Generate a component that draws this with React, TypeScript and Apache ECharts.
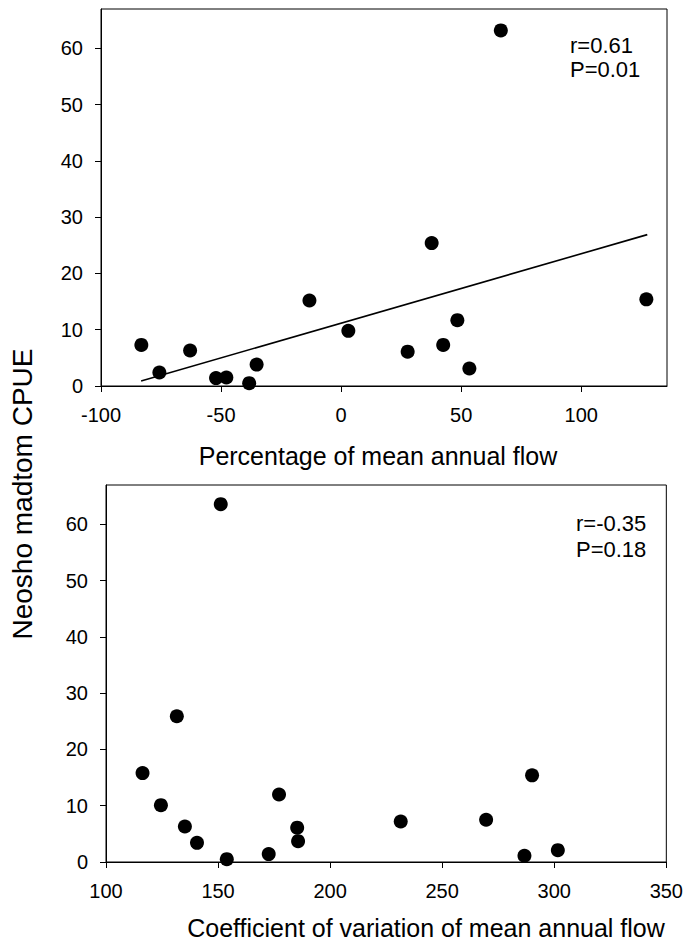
import React, { useEffect, useRef } from "react";
import * as echarts from "echarts";

// Top panel: percentage of mean annual flow vs CPUE
const flowPctX = [-83.2, -75.7, -62.9, -52.1, -47.8, -38.3, -35.2, -13.2, 3.0, 27.7, 42.5, 48.4, 53.4, 37.7, 66.5, 127.1];
const flowPctY = [7.3, 2.4, 6.3, 1.4, 1.5, 0.5, 3.8, 15.2, 9.8, 6.1, 7.3, 11.7, 3.1, 25.4, 63.2, 15.4];
// Regression line endpoints (top panel)
const fitX = [-83.3, 127.5];
const fitY = [0.9, 26.9];

// Bottom panel: coefficient of variation vs CPUE
const cvX = [151.2, 131.6, 116.3, 124.5, 135.2, 140.6, 153.9, 172.6, 177.2, 185.3, 185.7, 231.5, 269.6, 290.1, 286.7, 301.6];
const cvY = [63.6, 25.9, 15.8, 10.1, 6.3, 3.4, 0.5, 1.4, 12.0, 6.1, 3.7, 7.2, 7.5, 15.4, 1.1, 2.1];

const topStats = ["r=0.61", "P=0.01"];
const bottomStats = ["r=-0.35", "P=0.18"];
const titles = {
  y: "Neosho madtom CPUE",
  xTop: "Percentage of mean annual flow",
  xBottom: "Coefficient of variation of mean annual flow",
};

const FONT = "'Liberation Sans', Arial, sans-serif";

export default function App() {
  const ref = useRef<HTMLDivElement>(null);
  useEffect(() => {
    if (!ref.current) return;
    const chart = echarts.init(ref.current, null, { renderer: "svg" });
    const axisCommon = {
      type: "value" as const,
      axisLine: { show: true, onZero: false, lineStyle: { color: "#000", width: 1 } },
      axisTick: { show: true, inside: false, length: 6, lineStyle: { color: "#000" } },
      splitLine: { show: false },
    };
    const labelStyle = { color: "#000", fontSize: 20, fontFamily: FONT };
    const titleStyle = { fontSize: 25, fontFamily: FONT, fill: "#000", align: "center", verticalAlign: "middle" };
    chart.setOption({
      animation: false,
      backgroundColor: "#fff",
      textStyle: { fontFamily: FONT },
      grid: [
        { left: 101, right: 19, top: 9, height: 377, show: true, borderColor: "#000", borderWidth: 1, backgroundColor: "transparent" },
        { left: 106, right: 19, top: 485, height: 377, show: true, borderColor: "#000", borderWidth: 1, backgroundColor: "transparent" },
      ],
      xAxis: [
        {
          ...axisCommon,
          gridIndex: 0,
          min: -100,
          max: 135.7,
          interval: 50,
          axisLabel: { ...labelStyle, margin: 19, showMaxLabel: false },
        },
        {
          ...axisCommon,
          gridIndex: 1,
          min: 100,
          max: 350,
          interval: 50,
          axisLabel: { ...labelStyle, margin: 19 },
        },
      ],
      yAxis: [
        {
          ...axisCommon,
          gridIndex: 0,
          min: 0,
          max: 67,
          interval: 10,
          axisLabel: { ...labelStyle, margin: 18, showMaxLabel: false },
        },
        {
          ...axisCommon,
          gridIndex: 1,
          min: 0,
          max: 67,
          interval: 10,
          axisLabel: { ...labelStyle, margin: 18, showMaxLabel: false },
        },
      ],
      graphic: [
        {
          type: "text",
          x: 22,
          y: 494,
          rotation: Math.PI / 2,
          style: { ...titleStyle, text: titles.y, fontSize: 28 },
        },
        {
          type: "text",
          x: 378,
          y: 456,
          style: { ...titleStyle, text: titles.xTop },
        },
        {
          type: "text",
          x: 426,
          y: 928,
          style: { ...titleStyle, text: titles.xBottom },
        },
        ...topStats.map((t, i) => ({
          type: "text",
          x: 570,
          y: 45 + i * 24,
          style: { text: t, fontSize: 22, fontFamily: FONT, fill: "#000", align: "left", verticalAlign: "middle" },
        })),
        ...bottomStats.map((t, i) => ({
          type: "text",
          x: 576,
          y: 523 + i * 26,
          style: { text: t, fontSize: 22, fontFamily: FONT, fill: "#000", align: "left", verticalAlign: "middle" },
        })),
      ],
      series: [
        {
          type: "line",
          xAxisIndex: 0,
          yAxisIndex: 0,
          data: fitX.map((x, i) => [x, fitY[i]]),
          symbol: "none",
          lineStyle: { color: "#000", width: 1.6 },
          z: 2,
        },
        {
          type: "scatter",
          xAxisIndex: 0,
          yAxisIndex: 0,
          data: flowPctX.map((x, i) => [x, flowPctY[i]]),
          symbol: "circle",
          symbolSize: 14,
          itemStyle: { color: "#000", opacity: 1 },
          z: 3,
        },
        {
          type: "scatter",
          xAxisIndex: 1,
          yAxisIndex: 1,
          data: cvX.map((x, i) => [x, cvY[i]]),
          symbol: "circle",
          symbolSize: 14,
          itemStyle: { color: "#000", opacity: 1 },
          z: 3,
        },
      ],
    });
    return () => chart.dispose();
  }, []);
  return (
    <div
      ref={ref}
      style={{ position: "absolute", left: 0, top: 0, width: 686, height: 943, background: "#fff" }}
    />
  );
}
